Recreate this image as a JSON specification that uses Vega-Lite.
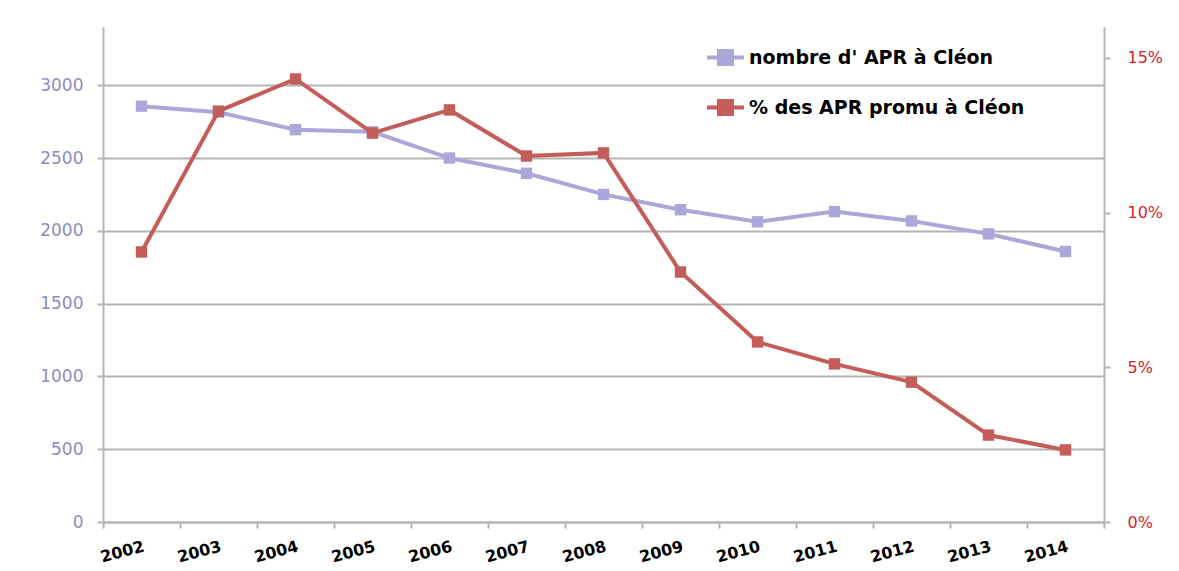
{
  "$schema": "https://vega.github.io/schema/vega-lite/v6.json",
  "autosize": {"type": "none"},
  "padding": {"left": 103, "top": 27, "right": 75, "bottom": 49},
  "width": 1001,
  "height": 495,
  "background": "white",
  "config": {
    "view": {"stroke": null},
    "font": "DejaVu Sans"
  },
  "data": {
    "values": [
      {"annee": "2002", "nombre": 2856, "pct": 0.0873},
      {"annee": "2003", "nombre": 2815, "pct": 0.1328},
      {"annee": "2004", "nombre": 2695, "pct": 0.1432},
      {"annee": "2005", "nombre": 2680, "pct": 0.1257},
      {"annee": "2006", "nombre": 2500, "pct": 0.1332},
      {"annee": "2007", "nombre": 2395, "pct": 0.1183},
      {"annee": "2008", "nombre": 2250, "pct": 0.1193},
      {"annee": "2009", "nombre": 2145, "pct": 0.0808},
      {"annee": "2010", "nombre": 2062, "pct": 0.0582},
      {"annee": "2011", "nombre": 2132, "pct": 0.0511},
      {"annee": "2012", "nombre": 2068, "pct": 0.0452},
      {"annee": "2013", "nombre": 1979, "pct": 0.0281},
      {"annee": "2014", "nombre": 1858, "pct": 0.0233}
    ]
  },
  "encoding": {
    "x": {
      "field": "annee",
      "type": "ordinal",
      "bandPosition": 0.5,
      "scale": {"type": "band", "paddingInner": 0, "paddingOuter": 0},
      "axis": {
        "title": null,
        "tickBand": "extent",
        "domainColor": "#b4b4b4",
        "domainWidth": 2,
        "tickColor": "#b4b4b4",
        "tickWidth": 2,
        "tickSize": 6,
        "labelAngle": -15,
        "labelAlign": "right",
        "labelBaseline": "top",
        "labelPadding": 10,
        "labelFont": "DejaVu Sans",
        "labelFontWeight": "bold",
        "labelFontSize": 16,
        "labelColor": "#000000"
      }
    }
  },
  "layer": [
    {
      "mark": {"type": "line", "strokeWidth": 4, "point": {"filled": true, "shape": "square", "size": 130}},
      "encoding": {
        "y": {
          "field": "nombre",
          "type": "quantitative",
          "scale": {"domain": [0, 3400], "nice": false},
          "axis": {
            "title": null,
            "orient": "left",
            "values": [0, 500, 1000, 1500, 2000, 2500, 3000],
            "grid": true,
            "gridColor": "#b4b4b4",
            "gridWidth": 2,
            "domainColor": "#b4b4b4",
            "domainWidth": 2,
            "tickColor": "#b4b4b4",
            "tickWidth": 2,
            "tickSize": 6,
            "labelPadding": 14,
            "labelFontSize": 17,
            "labelColor": "#8e8ac4",
            "format": "d"
          }
        },
        "color": {
          "datum": "nombre d' APR à Cléon",
          "type": "nominal",
          "scale": {
            "domain": ["nombre d' APR à Cléon", "% des APR promu à Cléon"],
            "range": ["#aba7da", "#c45c59"]
          },
          "legend": {
            "title": null,
            "orient": "none",
            "legendX": 602,
            "legendY": 10,
            "direction": "vertical",
            "symbolType": "M-1,0L1,0M-0.35,-0.35L0.35,-0.35L0.35,0.35L-0.35,0.35Z",
            "symbolSize": 1369,
            "symbolStrokeWidth": 4,
            "symbolFillColor": null,
            "labelFontSize": 19,
            "labelFontWeight": "bold",
            "labelColor": "#000000",
            "labelFont": "DejaVu Sans",
            "labelOffset": 3,
            "labelLimit": 400,
            "rowPadding": 15
          }
        }
      }
    },
    {
      "mark": {"type": "line", "strokeWidth": 4, "point": {"filled": true, "shape": "square", "size": 130}},
      "encoding": {
        "y": {
          "field": "pct",
          "type": "quantitative",
          "scale": {"domain": [0, 0.16], "nice": false},
          "axis": {
            "title": null,
            "orient": "right",
            "values": [0, 0.05, 0.1, 0.15],
            "format": ".0%",
            "grid": false,
            "domainColor": "#b4b4b4",
            "domainWidth": 2,
            "tickColor": "#b4b4b4",
            "tickWidth": 2,
            "tickSize": 6,
            "labelPadding": 17,
            "labelFontSize": 16,
            "labelColor": "#e0202a"
          }
        },
        "color": {
          "datum": "% des APR promu à Cléon",
          "type": "nominal"
        }
      }
    }
  ],
  "resolve": {"scale": {"y": "independent"}}
}
